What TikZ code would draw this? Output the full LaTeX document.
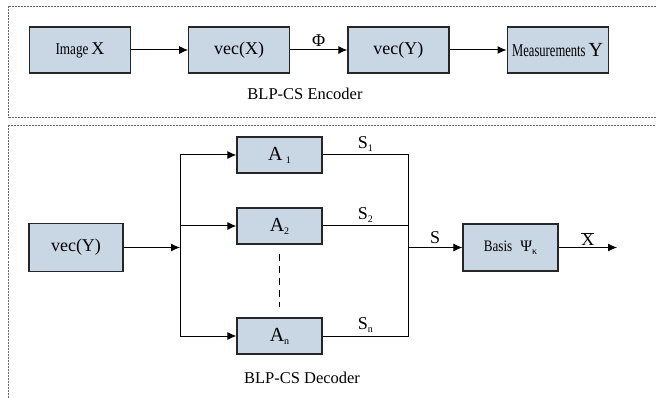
\documentclass[tikz,border=0pt]{standalone}
\usepackage{fontspec}
\setmainfont{Liberation Serif}
\usetikzlibrary{arrows.meta,chains,positioning}

\definecolor{boxfill}{RGB}{201,214,228}
\newcommand{\narrow}[2][0.75]{\scalebox{#1}[1]{#2}}
\newcommand{\lowidx}[1]{\raisebox{-3pt}{\fontsize{10}{10}\selectfont #1}}

\tikzset{
  blk/.style={draw=black!85,line width=1.2pt,fill=boxfill,minimum width=101pt,
    minimum height=46pt,inner sep=2pt,font=\fontsize{18}{20}\selectfont},
  conn/.style={line width=1pt,-{Latex[length=9pt,width=8pt]}},
  wire/.style={line width=1pt},
  dashframe/.style={draw=black!60,line width=1pt,dash pattern=on 2pt off 1pt},
  blocktitle/.style={font=\fontsize{16.5}{18}\selectfont}
}

\begin{document}
\begin{tikzpicture}[x=1pt,y=-1pt]
\useasboundingbox (0,0) rectangle (656,398);

\draw[dashframe] (8.5,6.5) rectangle (662,117.5);
\draw[dashframe] (8.5,125.5) rectangle (662,404);

% encoder row
\begin{scope}[shift={(80,50)},start chain=going right,node distance=57pt]
\def\encphr{1/{\narrow[0.8]{\fontsize{16.5}{18}\selectfont Image}\,X},2/{vec(X)},3/{vec(Y)},4/{\narrow[0.7]{Measurements}\,{\fontsize{20}{20}\selectfont Y}}}
\foreach \i / \element in \encphr
  \node [blk,on chain] (e\i) {\element};
\end{scope}

\draw[conn] (e1) -- (e2);
\draw[conn] (e2) -- node[above,font=\fontsize{18}{20}\selectfont] {Φ} (e3);
\draw[conn] (e3) -- (e4);
\node[blocktitle] (enc) at (305,94) {BLP-CS Encoder};

% decoder
\node[blk,minimum width=94pt,minimum height=48pt] (vy) at (76,247.5) {vec(Y)};
\node[blk,minimum width=85pt,minimum height=36pt,font=\fontsize{20}{20}\selectfont] (a1) at (279.5,155) {A\,\lowidx{1}};
\node[blk,minimum width=85pt,minimum height=36pt,font=\fontsize{20}{20}\selectfont] (a2) at (279.5,226) {A\lowidx{2}};
\node[blk,minimum width=85pt,minimum height=36pt,font=\fontsize{20}{20}\selectfont] (an) at (279.5,336) {A\lowidx{n}};
\node[blk,minimum width=95pt,minimum height=47pt,font=\fontsize{16}{18}\selectfont] (basis) at (510.5,247.5) {\narrow[0.82]{Basis}\ \ Ψ\lowidx{κ}};

\coordinate (split) at (180,247.5);
\coordinate (merge) at (408,247.5);
\coordinate (out) at (617,247.5);

\draw[conn] (vy) -- (split);
\foreach \k in {1,2,n}
  \draw[conn] (split) |- (a\k);
\foreach \k in {1,2,n}
  \draw[wire] (a\k) -| node[pos=0.25,above,font=\fontsize{18}{20}\selectfont] {S\lowidx{\k}} (merge);
\draw[wire,dash pattern=on 7pt off 5pt] ([yshift=-9pt]a2.south) -- ([yshift=10pt]an.north);

\draw[conn] (merge) -- node[above,font=\fontsize{18}{20}\selectfont] {S} (basis);
\draw[conn] (basis) -- node[above,inner sep=1pt,font=\fontsize{18}{20}\selectfont] {$\overline{\mbox{X}}$} (out);
\node[blocktitle] (dec) at (302,378) {BLP-CS Decoder};

\end{tikzpicture}
\end{document}
